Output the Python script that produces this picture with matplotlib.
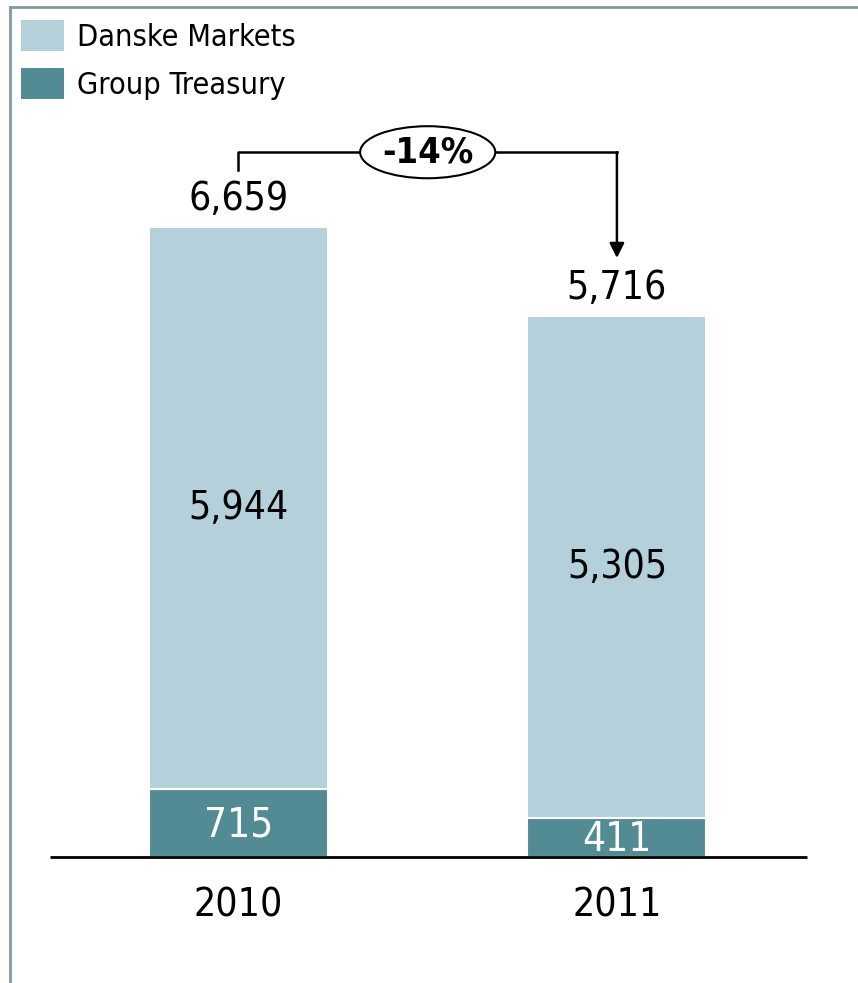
import matplotlib
matplotlib.use("Agg")
import matplotlib.pyplot as plt
from matplotlib.patches import Ellipse, Patch
from matplotlib.lines import Line2D

# income by unit, DKK m
years = ["2010", "2011"]
group_treasury = [715, 411]
danske_markets = [5944, 5305]
totals = [6659, 5716]
change_label = "-14%"

lightCol = "#b4d0da"
darkCol = "#528b93"
frameCol = "#7f9aa5"

plt.rcParams["font.family"] = ["DejaVu Sans"]

fig = plt.figure(figsize=(8.58, 9.83), dpi=100)
ax = fig.add_axes([0, 0, 1, 1])
ax.set_xlim(-0.630, 1.637)
ax.set_ylim(-1332, 9058)
ax.axis("off")

x = range(len(years))
barW = 0.473
ax.bar(x, group_treasury, width=barW, color=darkCol, edgecolor="white", linewidth=1.5, zorder=2)
ax.bar(x, danske_markets, width=barW, bottom=group_treasury, color=lightCol,
       edgecolor="white", linewidth=1.5, zorder=2)

# baseline
ax.hlines(0, -0.498, 1.502, color="black", linewidth=2, zorder=3)

txtKw = dict(ha="center", va="center", fontstretch="condensed")
for i in x:
    ax.text(i, group_treasury[i] / 2 - 25, f"{group_treasury[i]:,}", color="white", fontsize=29, **txtKw)
    ax.text(i, group_treasury[i] + danske_markets[i] / 2, f"{danske_markets[i]:,}", color="black", fontsize=28, **txtKw)
    ax.text(i, totals[i] + 300, f"{totals[i]:,}", color="black", fontsize=28, **txtKw)
    ax.text(i, -510, years[i], color="black", fontsize=28, **txtKw)

# change bracket with arrow
bracketY = totals[0] + 790
ax.plot([0, 0, 0.32], [totals[0] + 600, bracketY, bracketY], color="black", linewidth=1.8, zorder=3)
ax.plot([0.68, 1], [bracketY, bracketY], color="black", linewidth=1.8, zorder=3)
ax.annotate("", xy=(1, totals[1] + 615), xytext=(1, bracketY),
            arrowprops=dict(arrowstyle="-|>", color="black", lw=1.8, mutation_scale=22,
                            shrinkA=0, shrinkB=0))
ax.add_patch(Ellipse((0.5, bracketY), 0.357, 550, facecolor="white", edgecolor="black",
                     linewidth=1.5, zorder=4))
ax.text(0.5, bracketY, change_label, fontsize=26, fontweight="bold", zorder=5, **txtKw)

# legend
handles = [Patch(facecolor=lightCol, edgecolor="none", label="Danske Markets"),
           Patch(facecolor=darkCol, edgecolor="none", label="Group Treasury")]
leg = fig.legend(handles=handles, loc="upper left", bbox_to_anchor=(21 / 858, 1 - 20 / 983), frameon=False,
                 prop=dict(size=22, stretch="condensed"), handlelength=1.4, handleheight=1.16,
                 handletextpad=0.42, labelspacing=0.55, borderaxespad=0, borderpad=0)

# frame along top and left edge
fig.add_artist(Line2D([10 / 858, 1], [1 - 7 / 983, 1 - 7 / 983], color=frameCol, linewidth=2))
fig.add_artist(Line2D([10 / 858, 10 / 858], [0, 1 - 7 / 983], color=frameCol, linewidth=2))

fig.savefig("out.png", dpi=100, facecolor="white")
